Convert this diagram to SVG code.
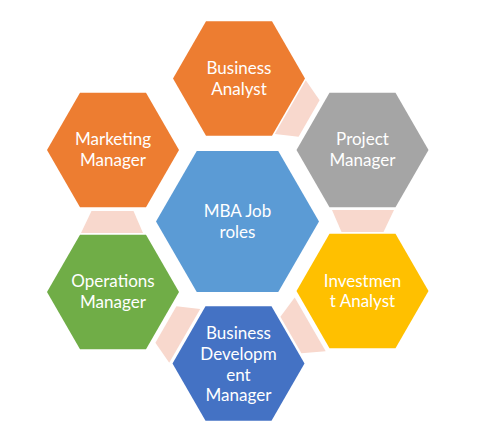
<svg xmlns="http://www.w3.org/2000/svg" width="477" height="439" viewBox="0 0 477 439">
<style>
  .lbl { font-family: Lato, "Open Sans", "Liberation Sans", sans-serif; font-size: 17px; fill: #FFFFFF; text-anchor: middle; }
  .pink { fill: #F8D8CD; }
</style>
<defs>
  <polygon id="hex" points="-66,0 -33,-57.2 33,-57.2 66,0 33,57.2 -33,57.2"/>
  <polygon id="hexBig" points="-81.5,0 -40.75,-70.6 40.75,-70.6 81.5,0 40.75,70.6 -40.75,70.6"/>
  <polygon id="link" points="332,210 394,210 383.5,232 341.5,232"/>
</defs>
<rect width="477" height="439" fill="#FFFFFF"/>
<g id="connectors">
  <use href="#link" class="pink" transform="rotate(-60 237.5 221.5)"/>
  <use href="#link" class="pink"/>
  <use href="#link" class="pink" transform="rotate(60 237.5 221.5)"/>
  <use href="#link" class="pink" transform="rotate(120 237.5 221.5)"/>
  <use href="#link" class="pink" transform="rotate(180 237.5 221.5)"/>
</g>
<g id="center">
  <use href="#hexBig" transform="translate(237.5 221.5)" fill="#5B9BD5"/>
  <text class="lbl" x="237.5" y="216.5">MBA Job</text>
  <text class="lbl" x="237.5" y="237.5">roles</text>
</g>
<g id="business-analyst">
  <use href="#hex" transform="translate(239 78.5)" fill="#ED7D31"/>
  <text class="lbl" x="239" y="73.5">Business</text>
  <text class="lbl" x="239" y="94.5">Analyst</text>
</g>
<g id="project-manager">
  <use href="#hex" transform="translate(362.5 150)" fill="#A5A5A5"/>
  <text class="lbl" x="362.5" y="145">Project</text>
  <text class="lbl" x="362.5" y="166">Manager</text>
</g>
<g id="investment-analyst">
  <use href="#hex" transform="translate(362.5 291)" fill="#FFC000"/>
  <text class="lbl" x="362.5" y="286.5">Investmen</text>
  <text class="lbl" x="362.5" y="307">t Analyst</text>
</g>
<g id="business-development-manager">
  <use href="#hex" transform="translate(238.5 363.5)" fill="#4472C4"/>
  <text class="lbl" x="238.5" y="338.5">Business</text>
  <text class="lbl" x="238.5" y="359.5">Developm</text>
  <text class="lbl" x="238.5" y="380.5">ent</text>
  <text class="lbl" x="238.5" y="401">Manager</text>
</g>
<g id="operations-manager">
  <use href="#hex" transform="translate(113 292)" fill="#70AD47"/>
  <text class="lbl" x="113" y="287">Operations</text>
  <text class="lbl" x="113" y="307.5">Manager</text>
</g>
<g id="marketing-manager">
  <use href="#hex" transform="translate(113 150)" fill="#ED7D31"/>
  <text class="lbl" x="113" y="145">Marketing</text>
  <text class="lbl" x="113" y="166">Manager</text>
</g>
</svg>
